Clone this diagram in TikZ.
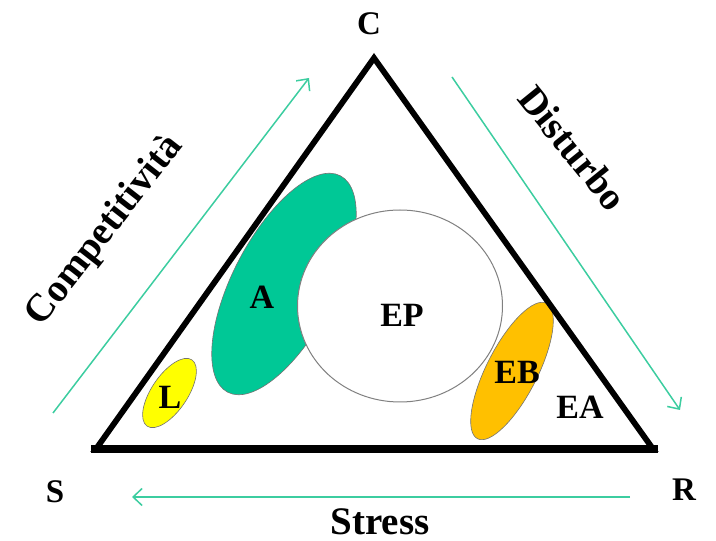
\documentclass[tikz,border=0pt]{standalone}
\usepackage{fontspec}
\setmainfont{Liberation Serif}
\usetikzlibrary{arrows.meta}
\definecolor{agreen}{RGB}{0,200,150}
\definecolor{arrowc}{RGB}{60,205,160}
\definecolor{lyellow}{RGB}{255,255,0}
\definecolor{eborange}{RGB}{255,192,0}
\begin{document}
\begin{tikzpicture}[x=1pt,y=1pt,
  lbl/.style={font=\fontsize{34}{36}\selectfont\bfseries, inner sep=0pt},
  vlbl/.style={font=\fontsize{33}{34}\selectfont\bfseries, inner sep=0pt},
  biglbl/.style={font=\fontsize{39}{40}\selectfont\bfseries, inner sep=0pt},
  trend/.style={draw=arrowc, line width=1.5pt, -{Straight Barb[length=9pt,width=17pt,line width=1.5pt]}},
  region/.style={draw=black!55, line width=0.6pt},
  side/.style={draw=black, line width=5.8pt, line join=miter}]
\useasboundingbox (0,0) rectangle (716,541);
% vertices
\coordinate (vC) at (374,483);
\coordinate (vS) at (96,92);
\coordinate (vR) at (653,92);
\coordinate (bL) at (91,92);
\coordinate (bR) at (658,92);
% regions
\fill[agreen, region, rotate around={62.5:(284,257)}] (284,257) ellipse [x radius=122, y radius=51];
\fill[eborange, region, rotate around={63:(512,170)}] (512,170) ellipse [x radius=76, y radius=25.5];
\fill[lyellow, region, rotate around={56:(169.5,148)}] (169.5,148) ellipse [x radius=40, y radius=18];
\filldraw[fill=white, draw=black!50, line width=1pt] (400,235) ellipse [x radius=102.5, y radius=96];
% triangle
\draw[side] (vS) -- (vC) -- (vR) -- cycle;
\draw[draw=black, line width=8pt] (bL) -- (bR);
% labels
\node[vlbl] (C) at (369,517) {C};
\node[vlbl] (S) at (55,49) {S};
\node[vlbl] (R) at (684,51) {R};
\node[lbl] (A) at (262,244) {A};
\node[lbl] (EP) at (402,226) {EP};
\node[lbl] (EB) at (517,169) {EB};
\node[lbl] (EA) at (580,134) {EA};
\node[lbl] (L) at (170,144) {L};
\node[biglbl, rotate=52] (comp) at (105,310) {Competitività};
\node[biglbl, rotate=-51] (dist) at (573,393) {Disturbo};
\node[biglbl] (stress) at (380,19) {Stress};
% trend arrows
\coordinate (c1) at (53,128);
\coordinate (c2) at (309,463);
\coordinate (d1) at (452,464);
\coordinate (d2) at (680,131);
\coordinate (s1) at (630,44);
\coordinate (s2) at (132,44);
\draw[trend] (c1) -- (c2);
\draw[trend] (d1) -- (d2);
\draw[trend] (s1) -- (s2);
\end{tikzpicture}
\end{document}
